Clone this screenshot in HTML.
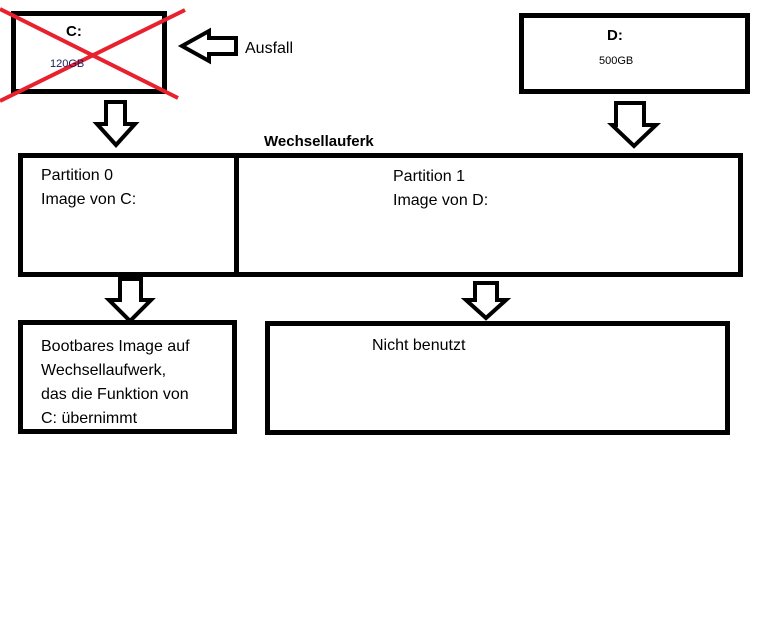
<!DOCTYPE html>
<html><head><meta charset="utf-8"><style>
html,body{margin:0;padding:0;background:#fff;width:772px;height:622px;overflow:hidden}
svg{display:block}
text{font-family:"Liberation Sans",sans-serif}
</style></head><body>
<svg width="772" height="622" viewBox="0 0 772 622" xmlns="http://www.w3.org/2000/svg">
<g fill="none" stroke="#000" stroke-width="5">
<rect x="13.5" y="13.5" width="151" height="78"/>
<rect x="521.5" y="15.5" width="226" height="76"/>
<rect x="20.5" y="155.5" width="720" height="119"/>
<line x1="236.5" y1="155" x2="236.5" y2="275"/>
<rect x="20.5" y="322.5" width="214" height="109"/>
<rect x="267.5" y="323.5" width="460" height="109"/>
</g>
<g fill="#fff" stroke="#000" stroke-width="4" stroke-linejoin="miter">
<polygon points="236,38 209,38 209,31 182,46 209,61 209,54 236,54"/>
<polygon points="106,102 125,102 125,124 135,124 116,145 97,124 106,124"/>
<polygon points="616,103 644,103 644,125 656,125 634,146 612,125 616,125"/>
<polygon points="120,279 141,279 141,300 151,300 130,321 109,300 120,300"/>
<polygon points="475,283 497,283 497,300 506,300 486,318 466,300 475,300"/>
</g>
<g stroke="#e8212f" stroke-width="4">
<line x1="0" y1="9" x2="178" y2="98"/>
<line x1="185" y1="10" x2="0" y2="101"/>
</g>
<text x="66" y="36" font-size="15" font-weight="bold">C:</text>
<text x="50" y="67" font-size="11" fill="#1a1a5a">120GB</text>
<text x="245" y="53" font-size="16">Ausfall</text>
<text x="607" y="40" font-size="15" font-weight="bold">D:</text>
<text x="599" y="64" font-size="11">500GB</text>
<text x="264" y="146" font-size="15" font-weight="bold">Wechsellauferk</text>
<text x="41" y="180" font-size="16">Partition 0</text>
<text x="41" y="204" font-size="16">Image von C:</text>
<text x="393" y="181" font-size="16">Partition 1</text>
<text x="393" y="205" font-size="16">Image von D:</text>
<text font-size="16"><tspan x="41" y="351">Bootbares Image auf</tspan><tspan x="41" y="375">Wechsellaufwerk,</tspan><tspan x="41" y="399">das die Funktion von</tspan><tspan x="41" y="423">C: übernimmt</tspan></text>
<text x="372" y="350" font-size="16">Nicht benutzt</text>
</svg>
</body></html>
